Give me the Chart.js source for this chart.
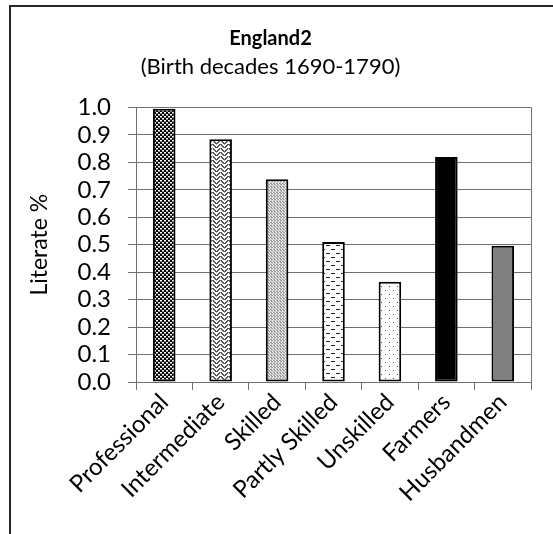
<!DOCTYPE html>
<html><head><meta charset="utf-8">
<script src="https://cdn.jsdelivr.net/npm/chart.js@4"></script>
<style>
html,body{margin:0;padding:0;background:#fff;}
#wrap{position:relative;width:553px;height:534px;overflow:hidden;}
#frame{position:absolute;left:9px;top:5px;width:600px;height:600px;border-top:2px solid #262626;border-left:2px solid #262626;pointer-events:none;}
canvas{position:absolute;left:0;top:0;}
</style></head><body>
<div id="wrap"><canvas id="c" width="553" height="534"></canvas><div id="frame"></div></div>
<script>
const titleText = 'England2';
const subtitleText = '(Birth decades 1690-1790)';
const yAxisTitle = 'Literate %';
const categories = ['Professional', 'Intermediate', 'Skilled', 'Partly Skilled', 'Unskilled', 'Farmers', 'Husbandmen'];
const literate = [0.995, 0.884, 0.738, 0.510, 0.365, 0.819, 0.496];
const yMin = 0.0, yMax = 1.0, yStep = 0.1;
const fillKinds = ['dense', 'weave', 'fine', 'dash', 'sparse', 'black', 'gray'];

function makeTile(w, h, draw) {
  const t = document.createElement('canvas');
  t.width = w; t.height = h;
  const g = t.getContext('2d');
  draw(g);
  return document.getElementById('c').getContext('2d').createPattern(t, 'repeat');
}
function fillFor(kind) {
  switch (kind) {
    case 'dense': return makeTile(4, 4, g => {
      g.fillStyle = '#000'; g.fillRect(0, 0, 4, 4);
      g.fillStyle = '#fff'; g.fillRect(0, 0, 2, 1); g.fillRect(2, 2, 2, 1);
      g.fillStyle = '#888'; g.fillRect(0, 1, 2, 1); g.fillRect(2, 3, 2, 1);
    });
    case 'weave': return makeTile(8, 8, g => {
      g.fillStyle = '#fff'; g.fillRect(0, 0, 8, 8);
      g.fillStyle = '#555';
      for (let i = 0; i < 4; i++) {
        g.fillRect(i, 3 - i, 2, 1); g.fillRect(4 + i, i, 2, 1);
        g.fillRect(i, 7 - i, 2, 1); g.fillRect(4 + i, 4 + i, 2, 1);
      }
      g.fillStyle = '#aaa';
      g.fillRect(0, 0, 1, 1); g.fillRect(4, 4, 1, 1);
    });
    case 'fine': return makeTile(3, 3, g => {
      g.fillStyle = '#fff'; g.fillRect(0, 0, 3, 3);
      g.fillStyle = '#9a9a9a'; g.fillRect(0, 0, 2, 1); g.fillRect(1, 1, 2, 1);
      g.fillStyle = '#d0d0d0'; g.fillRect(0, 2, 3, 1);
    });
    case 'dash': return makeTile(10, 8, g => {
      g.fillStyle = '#fff'; g.fillRect(0, 0, 10, 8);
      g.fillStyle = '#222'; g.fillRect(1, 1, 4, 1); g.fillRect(6, 5, 4, 1);
    });
    case 'sparse': return makeTile(8, 8, g => {
      g.fillStyle = '#fff'; g.fillRect(0, 0, 8, 8);
      g.fillStyle = '#555'; g.fillRect(1, 2, 1, 1); g.fillRect(5, 6, 1, 1);
    });
    case 'black': return '#000000';
    default: return '#808080';
  }
}

const gridColor = '#6f6f6f';
const fontFam = 'Lato, "Open Sans", sans-serif';

const plotBorder = {
  id: 'plotBorder',
  beforeDatasetsDraw(chart) {
    const a = chart.chartArea, ctx = chart.ctx;
    ctx.save();
    ctx.strokeStyle = gridColor; ctx.lineWidth = 1;
    ctx.beginPath();
    ctx.moveTo(Math.round(a.right) + 0.5, a.top);
    ctx.lineTo(Math.round(a.right) + 0.5, a.bottom);
    ctx.stroke();
    ctx.restore();
  }
};

new Chart(document.getElementById('c'), {
  type: 'bar',
  data: {
    labels: categories,
    datasets: [{
      data: literate,
      backgroundColor: fillKinds.map(fillFor),
      borderColor: '#000',
      borderWidth: 2,
      borderSkipped: false,
      barPercentage: 0.4,
      categoryPercentage: 1.0
    }]
  },
  options: {
    responsive: false,
    animation: false,
    devicePixelRatio: 1,
    layout: { padding: { left: 10, right: 22, top: 0, bottom: 0 } },
    plugins: {
      legend: { display: false },
      tooltip: { enabled: false },
      title: { display: true, text: titleText, color: '#000', font: { family: fontFam, size: 20, weight: 'bold' }, padding: { top: 27, bottom: 0 } },
      subtitle: { display: true, text: subtitleText, color: '#000', font: { family: fontFam, size: 22 }, padding: { top: 3, bottom: 27 } }
    },
    scales: {
      x: {
        grid: { display: true, drawOnChartArea: false, drawTicks: true, tickLength: 8, color: gridColor, offset: true },
        border: { display: true, color: gridColor, width: 1 },
        ticks: { color: '#000', font: { family: fontFam, size: 24 }, minRotation: 45, maxRotation: 45, autoSkip: false, padding: -2, labelOffset: 0 },
        afterFit(s) { s.height = 152; }
      },
      y: {
        min: yMin, max: yMax,
        grid: { color: gridColor, tickLength: 8 },
        border: { display: true, color: gridColor, width: 1 },
        ticks: { stepSize: yStep, autoSkip: false, color: '#000', font: { family: fontFam, size: 24 }, padding: 17, callback: v => Number(v).toFixed(1) },
        title: { display: true, text: yAxisTitle, color: '#000', font: { family: fontFam, size: 23 }, padding: { top: 16, bottom: 0 } },
        afterFit(s) { s.width = 126; }
      }
    }
  },
  plugins: [plotBorder]
});
</script>
</body></html>
